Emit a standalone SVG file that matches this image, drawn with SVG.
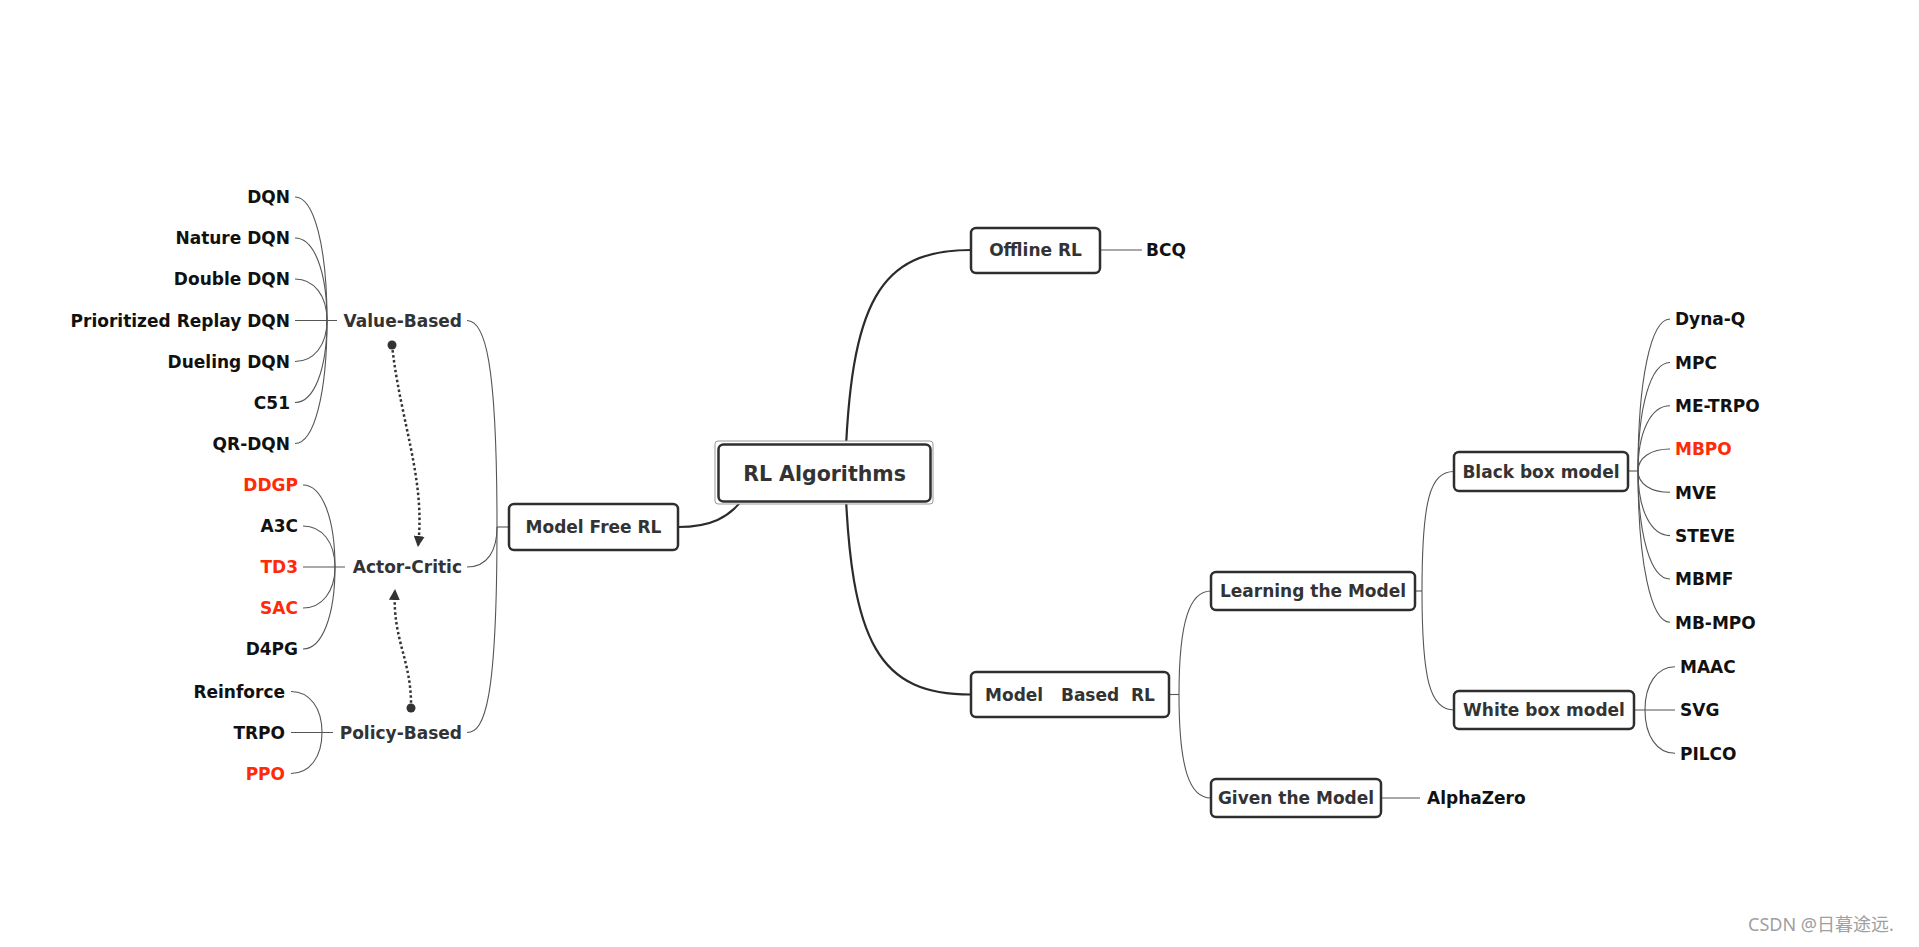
<svg xmlns="http://www.w3.org/2000/svg" width="1919" height="947" viewBox="0 0 1919 947">
<defs>
<style>
text{font-family:"DejaVu Sans","Liberation Sans",sans-serif;font-weight:bold;font-size:17px}
.leaf{fill:#111}
.red{fill:#ff2a06}
.lbl{fill:#333}
.root{font-size:20.5px}
.box{fill:#fff;stroke:#2e2e2e;stroke-width:2.5}
.thin{fill:none;stroke:#555;stroke-width:1.1}
.thick{fill:none;stroke:#2b2b2b;stroke-width:2.2}
.dot{fill:none;stroke:#333;stroke-width:2.5;stroke-dasharray:2.5 2.5}
.end{text-anchor:end}
.mid{text-anchor:middle}
.wm{font-family:"Noto Sans","Noto Sans CJK SC",sans-serif;font-weight:normal;font-size:18px;fill:#a0a0a0}
</style>
<marker id="arr" markerWidth="11" markerHeight="11" refX="10" refY="5.5" orient="auto" markerUnits="userSpaceOnUse"><path d="M0,0 L11,5.5 L0,11 z" fill="#333"/></marker>
</defs>
<rect width="1919" height="947" fill="#fff"/>
<g id="connectors">
<path class="thick" d="M845 473 C850 300 880 250 971 250"/>
<path class="thick" d="M845 473 C850 646 880 694.5 971 694.5"/>
<path class="thick" d="M748 492 C730 520 708 527 678 527"/>
<path class="thin" d="M497 527 H509"/>
<path class="thin" d="M467 320.5 C485 320.5 497 360 497 527"/>
<path class="thin" d="M467 567 C488 567 497 550 497 527"/>
<path class="thin" d="M467 732.5 C485 732.5 497 700 497 527"/>
<path class="thin" d="M295 320.5 H337"/>
<path class="thin" d="M295 197 C314 197 327 246.4 327 320.5"/>
<path class="thin" d="M295 238 C314 238 327 271 327 320.5"/>
<path class="thin" d="M295 279 C314 279 327 295.6 327 320.5"/>
<path class="thin" d="M295 361.5 C314 361.5 327 345.1 327 320.5"/>
<path class="thin" d="M295 402.5 C314 402.5 327 369.7 327 320.5"/>
<path class="thin" d="M295 443.5 C314 443.5 327 394.3 327 320.5"/>
<path class="thin" d="M303 567 H345"/>
<path class="thin" d="M303 485 C322 485 335 517.8 335 567"/>
<path class="thin" d="M303 526 C322 526 335 542.4 335 567"/>
<path class="thin" d="M303 608 C322 608 335 591.6 335 567"/>
<path class="thin" d="M303 649 C322 649 335 616.2 335 567"/>
<path class="thin" d="M291 732.5 H333"/>
<path class="thin" d="M291 691.5 C309.6 691.5 322 707.9 322 732.5"/>
<path class="thin" d="M291 773.5 C309.6 773.5 322 757.1 322 732.5"/>
<path class="dot" d="M392 345 C400 420 426 480 418 546" marker-end="url(#arr)"/>
<circle cx="392" cy="345" r="4.5" fill="#333"/>
<path class="dot" d="M411 708 C412 660 392 640 395 590" marker-end="url(#arr)"/>
<circle cx="411" cy="708" r="4.5" fill="#333"/>
<path class="thin" d="M1100 250 H1142"/>
<path class="thin" d="M1169 694.5 H1179"/>
<path class="thin" d="M1179 694.5 C1179 620 1190 591 1211 591"/>
<path class="thin" d="M1179 694.5 C1179 770 1190 798 1211 798"/>
<path class="thin" d="M1381 798 H1420"/>
<path class="thin" d="M1415 591 H1422"/>
<path class="thin" d="M1422 591 C1422 500 1430 471.5 1454 471.5"/>
<path class="thin" d="M1422 591 C1422 680 1430 710 1454 710"/>
<path class="thin" d="M1628 471 H1638"/>
<path class="thin" d="M1670 319 C1650.8 319 1638 379.8 1638 471"/>
<path class="thin" d="M1670 362.5 C1650.8 362.5 1638 405.9 1638 471"/>
<path class="thin" d="M1670 405.8 C1650.8 405.8 1638 431.9 1638 471"/>
<path class="thin" d="M1670 449 C1650.8 449 1638 457.8 1638 471"/>
<path class="thin" d="M1670 492.3 C1650.8 492.3 1638 483.8 1638 471"/>
<path class="thin" d="M1670 535.6 C1650.8 535.6 1638 509.8 1638 471"/>
<path class="thin" d="M1670 579 C1650.8 579 1638 535.8 1638 471"/>
<path class="thin" d="M1670 622.3 C1650.8 622.3 1638 561.8 1638 471"/>
<path class="thin" d="M1634 710 H1675"/>
<path class="thin" d="M1675 666.7 C1657 666.7 1645 684 1645 710"/>
<path class="thin" d="M1675 753.3 C1657 753.3 1645 736 1645 710"/>
</g>
<g id="root">
<rect x="715" y="441" width="218" height="63" rx="3" fill="#fff" stroke="#999" stroke-width="1"/>
<rect x="718.5" y="444.5" width="212" height="57" rx="5" class="box" stroke-width="3"/>
<text x="824.5" y="480.5" class="mid lbl root">RL Algorithms</text>
</g>
<g id="model-free">
<rect x="509" y="504" width="169" height="46" rx="5" class="box"/>
<text x="593.5" y="533.2" class="mid lbl">Model Free RL</text>
</g>
<g id="value-based">
<text x="462" y="326.7" class="end lbl">Value-Based</text>
</g>
<g id="actor-critic">
<text x="462" y="573.2" class="end lbl">Actor-Critic</text>
</g>
<g id="policy-based">
<text x="462" y="738.7" class="end lbl">Policy-Based</text>
</g>
<g id="value-leaves">
<text x="290" y="203.2" class="end leaf">DQN</text>
<text x="290" y="244.2" class="end leaf">Nature DQN</text>
<text x="290" y="285.2" class="end leaf">Double DQN</text>
<text x="290" y="326.7" class="end leaf">Prioritized Replay DQN</text>
<text x="290" y="367.7" class="end leaf">Dueling DQN</text>
<text x="290" y="408.7" class="end leaf">C51</text>
<text x="290" y="449.7" class="end leaf">QR-DQN</text>
</g>
<g id="ac-leaves">
<text x="298" y="491.2" class="end red">DDGP</text>
<text x="298" y="532.2" class="end leaf">A3C</text>
<text x="298" y="573.2" class="end red">TD3</text>
<text x="298" y="614.2" class="end red">SAC</text>
<text x="298" y="655.2" class="end leaf">D4PG</text>
</g>
<g id="policy-leaves">
<text x="285" y="697.7" class="end leaf">Reinforce</text>
<text x="285" y="738.7" class="end leaf">TRPO</text>
<text x="285" y="779.7" class="end red">PPO</text>
</g>
<g id="offline">
<rect x="971" y="228" width="129" height="45" rx="5" class="box"/>
<text x="1035.5" y="256.2" class="mid lbl">Offline RL</text>
</g>
<g id="bcq">
<text x="1146" y="256.2" class="leaf">BCQ</text>
</g>
<g id="model-based">
<rect x="971" y="672" width="198" height="45" rx="5" class="box"/>
<text x="1070" y="700.7" class="mid lbl" xml:space="preserve">Model   Based  RL</text>
</g>
<g id="learning">
<rect x="1211" y="572" width="204" height="38" rx="5" class="box"/>
<text x="1313" y="597.2" class="mid lbl">Learning the Model</text>
</g>
<g id="given">
<rect x="1211" y="779" width="170" height="38" rx="5" class="box"/>
<text x="1296" y="804.2" class="mid lbl">Given the Model</text>
</g>
<g id="alphazero">
<text x="1427" y="804.2" class="leaf">AlphaZero</text>
</g>
<g id="black-box">
<rect x="1454" y="452" width="174" height="39" rx="5" class="box"/>
<text x="1541" y="477.7" class="mid lbl">Black box model</text>
</g>
<g id="white-box">
<rect x="1454" y="691" width="180" height="38" rx="5" class="box"/>
<text x="1544" y="716.2" class="mid lbl">White box model</text>
</g>
<g id="black-leaves">
<text x="1675" y="325.2" class="leaf">Dyna-Q</text>
<text x="1675" y="368.7" class="leaf">MPC</text>
<text x="1675" y="412" class="leaf">ME-TRPO</text>
<text x="1675" y="455.2" class="red">MBPO</text>
<text x="1675" y="498.5" class="leaf">MVE</text>
<text x="1675" y="541.8" class="leaf">STEVE</text>
<text x="1675" y="585.2" class="leaf">MBMF</text>
<text x="1675" y="628.5" class="leaf">MB-MPO</text>
</g>
<g id="white-leaves">
<text x="1680" y="672.9" class="leaf">MAAC</text>
<text x="1680" y="716.2" class="leaf">SVG</text>
<text x="1680" y="759.5" class="leaf">PILCO</text>
</g>
<g id="watermark">
<text x="1748" y="931" class="wm">CSDN @日暮途远.</text>
</g>
</svg>
